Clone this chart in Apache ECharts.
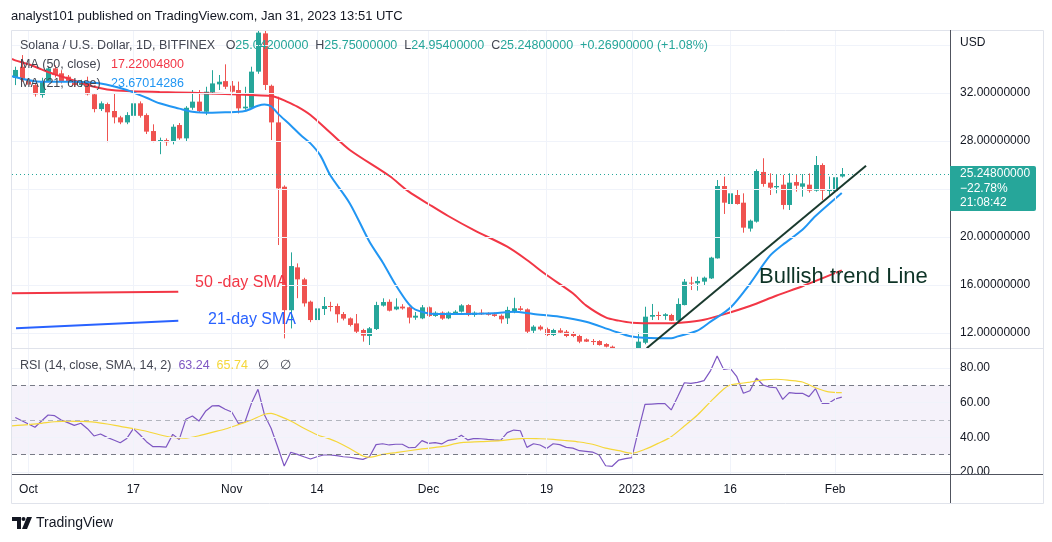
<!DOCTYPE html>
<html><head><meta charset="utf-8">
<script src="https://cdn.jsdelivr.net/npm/echarts@6/dist/echarts.min.js"></script>
<style>html,body{margin:0;padding:0;background:#fff}#c{width:1052px;height:542px}</style>
</head><body><div id="c"></div>
<script>
// ---------------- DATA ----------------
// day index d: 0 = 2022-10-01 ; first candle d = -2
const firstDay = -2;
const tickDays = [0, 16, 31, 44, 61, 79, 92, 107, 123];
const tickLabels = ['Oct', '17', 'Nov', '14', 'Dec', '19', '2023', '16', 'Feb'];
const priceGridTicks = [12, 16, 20, 24, 28, 32, 36];
const priceLabelTicks = [12, 16, 20, 28, 32];
const rsiTicks = [20, 40, 60, 80];
const rsiBands = [30, 50, 70];

// [open, close, low, high]
const ohlc = [
 [33.27,33.92,32.66,34.19],[34.19,33.08,32.94,35.16],[33.08,32.70,32.30,33.50],[32.66,31.89,31.70,32.80],[31.83,32.94,31.61,33.27],
 [32.94,34.05,32.90,34.20],[34.05,33.50,33.30,34.30],[33.64,32.94,32.80,33.90],[33.36,32.94,32.80,33.50],[32.94,32.66,32.50,33.10],
 [32.66,32.94,32.50,33.10],[32.94,31.89,31.80,33.36],[31.89,30.66,30.39,32.00],[30.66,31.14,30.50,31.30],[31.08,30.39,27.90,31.20],
 [30.50,29.97,29.47,31.97],[29.97,29.55,29.40,30.10],[29.55,30.16,29.40,30.40],[30.10,31.14,29.90,31.28],[31.14,30.10,29.95,31.30],
 [30.16,28.78,28.58,30.30],[28.83,27.94,27.90,29.39],[27.94,28.08,26.90,28.28],[28.08,27.90,27.60,28.22],[27.94,29.19,27.72,29.39],
 [29.33,28.22,28.10,29.50],[28.22,30.77,28.00,30.90],[30.77,31.28,30.60,32.25],[31.28,30.50,30.40,32.25],[30.44,32.11,30.16,32.52],
 [32.05,32.80,31.90,33.90],[32.72,32.94,32.25,33.50],[32.99,32.52,32.33,34.39],[32.61,32.11,32.05,33.00],[32.25,30.72,30.30,32.95],
 [30.72,30.86,30.60,32.52],[30.77,33.78,30.70,34.19],[33.78,37.03,33.60,38.50],[36.97,32.67,32.25,38.00],[32.60,29.55,28.08,32.70],
 [29.55,24.05,19.33,31.69],[24.19,13.90,11.55,24.30],[13.90,17.58,12.38,18.72],[17.47,16.47,14.90,17.80],[16.47,14.47,14.20,16.60],
 [14.61,13.08,12.90,14.70],[13.08,14.05,12.11,14.90],[14.00,14.25,13.50,15.00],[14.25,14.20,13.80,14.60],[14.25,13.56,12.86,14.45],
 [13.58,13.20,13.05,13.75],[13.22,12.67,12.55,13.30],[12.80,12.11,12.00,13.58],[12.25,11.78,11.28,12.35],[11.75,12.39,11.00,12.50],
 [12.33,14.33,12.25,14.60],[14.28,14.58,14.20,14.89],[14.60,13.86,13.80,14.80],[13.97,14.20,13.90,14.89],[14.20,14.05,13.95,14.40],
 [14.14,13.28,12.80,14.20],[13.28,13.44,13.10,13.75],[13.22,14.14,13.15,14.33],[14.14,13.42,13.35,14.20],[13.42,13.69,13.35,13.80],
 [13.70,13.20,13.10,13.80],[13.22,13.70,13.15,13.80],[13.64,13.78,13.55,13.90],[13.78,14.30,13.70,14.40],[14.33,13.50,13.40,14.40],
 [13.50,13.69,13.35,13.80],[13.69,13.56,13.50,13.97],[13.60,13.58,13.45,13.72],[13.56,13.42,13.35,13.70],[13.44,13.14,12.80,13.55],
 [13.22,13.92,12.75,14.19],[13.72,14.06,13.65,14.94],[14.05,13.92,13.85,14.25],[13.97,12.11,11.92,14.05],[12.19,12.53,11.92,12.65],
 [12.53,12.30,12.20,12.65],[12.33,11.83,11.75,12.45],[11.83,12.25,11.75,12.35],[12.22,12.03,11.95,12.40],[12.11,11.75,11.65,12.25],
 [11.92,11.75,11.65,12.10],[11.75,11.28,11.15,11.85],[11.47,11.28,11.25,11.55],[11.33,11.28,11.00,11.50],[11.33,11.00,10.95,11.40],
 [11.08,10.86,10.80,11.15],[10.86,9.90,9.60,10.95],[9.90,10.10,9.70,10.30],[10.10,10.20,9.95,10.40],[10.20,10.00,9.90,10.35],
 [10.00,11.28,9.90,12.03],[11.19,13.36,11.06,14.19],[13.36,13.50,13.08,14.42],[13.50,13.42,13.08,13.78],[13.42,13.56,13.10,13.65],
 [13.50,13.03,13.00,13.60],[13.03,14.42,12.95,14.89],[14.33,16.28,14.30,16.50],[16.20,16.14,15.58,16.69],[16.14,16.33,15.53,16.69],
 [16.28,16.61,15.95,16.70],[16.55,18.28,16.50,18.35],[18.22,24.25,18.20,24.75],[24.25,22.86,21.92,25.03],[22.75,23.64,22.19,25.03],
 [23.50,22.75,22.70,23.92],[22.86,20.78,20.36,23.64],[20.70,21.36,20.45,21.45],[21.28,25.50,21.20,25.64],[25.42,24.42,24.19,26.56],
 [24.53,24.11,23.50,25.31],[24.14,24.25,23.64,25.17],[24.36,22.67,22.30,25.17],[22.67,24.53,22.25,25.31],[24.58,24.28,23.78,25.25],
 [24.19,24.47,23.36,25.25],[24.36,23.86,23.70,25.30],[23.86,26.00,23.78,26.75],[26.00,23.86,23.08,26.14],[23.83,23.94,23.36,25.03],
 [23.83,24.979,22.53,25.03],[25.042,25.248,24.954,25.75]
];

const ma50Days = [-2.5,-2,0,2,4,6,8,10,12,15,20,25,30,34,37,38,39,41,43,46,49,55,58,61,64,68,73,76,79,83,85,88,90,92,96,98,101,103,106,110,114,118,121,124];
const ma50Values = [34.85,34.72,34.39,33.97,33.55,33.22,32.86,32.52,32.30,32.16,32.08,32.02,31.91,31.83,31.75,31.61,31.38,30.86,30.16,28.70,27.25,25.10,23.78,22.75,21.75,20.55,19.19,18.08,16.83,15.31,14.30,13.30,13.03,12.86,12.81,12.81,12.94,13.10,13.55,14.25,15.10,15.90,16.55,17.220048];

const ma21Days = [-2.5,2,7,11,15,18,20,23,25,28,30,33,35,36,37,38,40,41.5,43,44.5,46,49,52,54,56,58,59,62,66,71,74,77,81,85,89,92,96,98,99,102,104,107,110,113,115,118,120,124];
const ma21Values = [33.40,32.94,32.94,32.80,32.25,31.60,31.14,30.70,30.44,30.36,30.39,30.50,30.94,31.05,30.90,30.30,29.30,28.50,27.80,26.80,25.17,22.80,19.60,17.90,16.00,14.40,13.95,13.58,13.58,13.64,13.78,13.58,13.36,12.94,12.20,11.70,11.56,11.56,11.72,12.20,12.95,14.10,16.10,18.40,19.35,20.60,21.75,23.67014286];

const rsi = [
 51.4,49.6,47.7,45.8,49.4,52.9,52.5,50.0,48.5,46.9,
 48.1,45.0,40.8,41.9,40.0,38.5,36.9,39.4,45.0,41.5,
 37.5,34.6,34.6,34.4,41.7,38.8,50.4,52.3,49.4,55.0,
 58.1,58.3,56.2,54.6,48.1,48.7,59.6,67.7,52.9,45.2,
 34.6,23.5,31.4,30.2,28.8,27.5,28.8,29.8,29.8,29.4,
 28.8,28.5,27.9,27.3,28.8,35.8,36.3,35.6,36.0,36.0,
 34.0,34.2,38.1,36.5,36.9,36.2,38.3,38.8,41.2,38.5,
 39.4,39.2,38.8,38.5,38.3,42.7,44.2,43.8,34.2,36.3,
 35.6,33.6,36.3,35.8,34.2,33.8,32.3,31.9,31.5,29.8,
 23.6,23.3,26.9,27.7,28.3,44.0,59.0,59.2,59.4,59.6,
 55.8,63.5,71.5,71.1,71.7,72.7,78.5,86.9,79.2,79.8,
 75.0,65.4,66.9,74.2,70.2,69.0,68.6,61.9,65.8,65.4,
 65.4,63.5,68.1,59.6,59.6,62.1,63.24
];

const rsiMaDays = [-2.5,0,2,4,6,8,10,12,14,16,18,20,22,24,26,28,30,32,34,36,37,38,40,42,44,46,47,49,51,52,54,56,60,63,66,69,72,74,76,78,80,82,84,86,88,90,92,94,96,98,100,102,104,106,107,108,110,112,114,116,118,120,122,124];
const rsiMaValues = [46.6,47.3,48.1,49.0,49.4,49.2,48.8,47.7,46.3,45.0,43.5,41.5,40.0,39.6,40.9,42.9,44.8,47.3,50.0,53.3,53.8,52.7,49.4,45.2,41.5,39.0,37.5,33.6,29.2,28.5,30.2,31.2,33.3,34.6,36.9,37.5,38.1,39.0,39.4,39.2,38.8,38.1,37.3,36.0,33.8,32.3,30.8,33.1,36.5,40.4,46.5,52.9,60.6,67.9,70.2,70.8,71.9,73.1,73.5,72.9,71.9,68.6,66.2,65.74];

// drawings (in chart data coordinates: [day, price])
const trendLine = [[94.26, 10.73], [127.7, 25.94]];
const legendRedLine = [[-2.55, 15.31], [22.85, 15.44]];
const legendBlueLine = [[-1.89, 12.39], [22.85, 13.02]];
const lastPriceChangeText = '\u221222.78%';
const countdownText = '21:08:42';

// ---------------- CHART ----------------
const FONT = '"Liberation Sans", Arial, sans-serif';
const UP = '#26a69a', DOWN = '#ef5350';
const N = 143;
const categories = [];
for (let i = 0; i < N; i++) {
  const dt = new Date(Date.UTC(2022, 8, 29 + i));
  categories.push(dt.toISOString().slice(0, 10));
}
const pair = (xs, ys) => xs.map((x, i) => [x, ys[i]]);
const last = ohlc[ohlc.length - 1];
const prevClose = ohlc[ohlc.length - 2][1];
const chg = last[1] - prevClose;
const chgPct = chg / prevClose * 100;
const GRID = '#f0f3fa';

const chart = echarts.init(document.getElementById('c'), null, {renderer: 'canvas'});

const LF = '12.5px ' + FONT;
const legendText =
  '{l|Solana / U.S. Dollar, 1D, BITFINEX}   {l|O}{v|' + last[0].toFixed(8) + '}  {l|H}{v|' + last[3].toFixed(8) +
  '}  {l|L}{v|' + last[2].toFixed(8) + '}  {l|C}{v|' + last[1].toFixed(8) + '}  {v|' + (chg >= 0 ? '+' : '') + chg.toFixed(8) +
  ' (' + (chg >= 0 ? '+' : '') + chgPct.toFixed(2) + '%)}';

const graphics = [
  {type: 'text', x: 11, y: 16, z: 100, silent: true,
   style: {text: 'analyst101 published on TradingView.com, Jan 31, 2023 13:51 UTC', fill: '#131722', font: '13px ' + FONT, verticalAlign: 'middle'}},
  {type: 'rect', z: 90, silent: true, shape: {x: 11.5, y: 30.5, width: 1032, height: 473},
   style: {fill: 'none', stroke: '#e0e3eb', lineWidth: 1}},
  {type: 'line', z: 90, silent: true, shape: {x1: 12, y1: 348.5, x2: 1043, y2: 348.5}, style: {stroke: '#e0e3eb', lineWidth: 1}},
  {type: 'line', z: 91, silent: true, shape: {x1: 12, y1: 474.5, x2: 1043, y2: 474.5}, style: {stroke: '#50535e', lineWidth: 1}},
  {type: 'line', z: 91, silent: true, shape: {x1: 950.5, y1: 30, x2: 950.5, y2: 503}, style: {stroke: '#50535e', lineWidth: 1}},
  {type: 'text', x: 20, y: 46, z: 100, silent: true,
   style: {text: legendText, font: LF, verticalAlign: 'middle',
     rich: {l: {fill: '#434651', font: LF}, v: {fill: UP, font: LF}}}},
  {type: 'text', x: 20, y: 65, z: 100, silent: true,
   style: {text: '{l|MA (50, close)}   {v|' + ma50Values[ma50Values.length - 1].toFixed(8) + '}', font: LF, verticalAlign: 'middle',
     rich: {l: {fill: '#434651', font: LF}, v: {fill: '#f23645', font: LF}}}},
  {type: 'text', x: 20, y: 84, z: 100, silent: true,
   style: {text: '{l|MA (21, close)}   {v|' + ma21Values[ma21Values.length - 1].toFixed(8) + '}', font: LF, verticalAlign: 'middle',
     rich: {l: {fill: '#434651', font: LF}, v: {fill: '#2196f3', font: LF}}}},
  {type: 'text', x: 20, y: 366, z: 100, silent: true,
   style: {text: '{l|RSI (14, close, SMA, 14, 2)}  {p|' + rsi[rsi.length - 1].toFixed(2) + '}  {y|' + rsiMaValues[rsiMaValues.length - 1].toFixed(2) + '}   {g|\u2205}   {g|\u2205}',
     font: LF, verticalAlign: 'middle',
     rich: {l: {fill: '#434651', font: LF}, p: {fill: '#7e57c2', font: LF},
            y: {fill: '#f5d73a', font: LF}, g: {fill: '#434651', font: LF}}}},
  {type: 'text', x: 195, y: 283, z: 100, silent: true,
   style: {text: '50 -day SMA', fill: '#f23645', font: '16px ' + FONT, verticalAlign: 'middle'}},
  {type: 'text', x: 208, y: 320, z: 100, silent: true,
   style: {text: '21-day SMA', fill: '#2962ff', font: '16px ' + FONT, verticalAlign: 'middle'}},
  {type: 'text', x: 759, y: 277, z: 100, silent: true,
   style: {text: 'Bullish trend Line', fill: '#0d3326', font: '22px ' + FONT, verticalAlign: 'middle'}},
  {type: 'text', x: 960, y: 43, z: 100, silent: true,
   style: {text: 'USD', fill: '#131722', font: '12px ' + FONT, verticalAlign: 'middle'}},
  {type: 'rect', z: 100, silent: true, shape: {x: 950, y: 166, width: 86, height: 45, r: [0, 2, 2, 0]}, style: {fill: UP}},
  {type: 'text', x: 960, y: 174, z: 101, silent: true,
   style: {text: last[1].toFixed(8), fill: '#ffffff', font: '12px ' + FONT, verticalAlign: 'middle'}},
  {type: 'text', x: 960, y: 188.5, z: 101, silent: true,
   style: {text: lastPriceChangeText, fill: '#ffffff', font: '12px ' + FONT, verticalAlign: 'middle'}},
  {type: 'text', x: 960, y: 202.5, z: 101, silent: true,
   style: {text: countdownText, fill: '#ffffff', font: '12px ' + FONT, verticalAlign: 'middle'}},
  // TradingView logo
  {type: 'polygon', z: 100, silent: true, shape: {points: [[12, 517], [21, 517], [21, 529], [17, 529], [17, 521], [12, 521]]}, style: {fill: '#131722'}},
  {type: 'circle', z: 100, silent: true, shape: {cx: 23.5, cy: 519, r: 2}, style: {fill: '#131722'}},
  {type: 'polygon', z: 100, silent: true, shape: {points: [[27, 517], [32, 517], [27, 529], [22, 529]]}, style: {fill: '#131722'}},
  {type: 'text', x: 36, y: 523, z: 100, silent: true,
   style: {text: 'TradingView', fill: '#131722', font: '14px ' + FONT, verticalAlign: 'middle'}}
];

function renderCandle(params, api) {
  const xi = api.value(0);
  const o = api.value(1), c = api.value(2), l = api.value(3), h = api.value(4);
  const pO = api.coord([xi, o]), pC = api.coord([xi, c]);
  const pL = api.coord([xi, l]), pH = api.coord([xi, h]);
  const band = api.size([1, 0])[0];
  const w = Math.max(1, Math.round(band * 0.72));
  const cx = Math.round(pO[0]);
  const color = c >= o ? UP : DOWN;
  const top = Math.min(pO[1], pC[1]), bot = Math.max(pO[1], pC[1]);
  return {
    type: 'group',
    children: [
      {type: 'line', shape: {x1: cx + 0.5, y1: pH[1], x2: cx + 0.5, y2: pL[1]}, style: {stroke: color, lineWidth: 1}},
      {type: 'rect', shape: {x: cx + 0.5 - w / 2, y: top, width: w, height: Math.max(bot - top, 1)}, style: {fill: color}}
    ]
  };
}

const option = {
  animation: false,
  backgroundColor: '#ffffff',
  textStyle: {fontFamily: FONT},
  grid: [
    {left: 12, top: 30, width: 938, height: 318},
    {left: 12, top: 348, width: 938, height: 126}
  ],
  xAxis: [
    {type: 'category', gridIndex: 0, data: categories, boundaryGap: true, show: false},
    {type: 'value', gridIndex: 0, min: -2.5, max: 140.5, show: false},
    {type: 'value', gridIndex: 1, min: -2.5, max: 140.5,
     axisLine: {show: false}, axisTick: {show: false}, splitLine: {show: false},
     axisLabel: {customValues: tickDays, color: '#131722', fontSize: 12, margin: 10, fontFamily: FONT,
       formatter: v => { const i = tickDays.indexOf(Math.round(v)); return i >= 0 ? tickLabels[i] : ''; }}}
  ],
  yAxis: [
    {type: 'value', gridIndex: 0, position: 'right', min: 10.75, max: 37.25,
     axisLine: {show: false}, axisTick: {show: false}, splitLine: {show: false},
     axisLabel: {customValues: priceLabelTicks, color: '#131722', fontSize: 12, margin: 10, fontFamily: FONT,
       formatter: v => v.toFixed(8)}},
    {type: 'value', gridIndex: 1, position: 'right', min: 18.85, max: 91.54,
     axisLine: {show: false}, axisTick: {show: false}, splitLine: {show: false},
     axisLabel: {customValues: rsiTicks, color: '#131722', fontSize: 12, margin: 10, fontFamily: FONT,
       formatter: v => v.toFixed(2)}}
  ],
  series: [
    {type: 'line', name: 'grid-main', xAxisIndex: 1, yAxisIndex: 0, data: [], z: 0, silent: true,
     markLine: {silent: true, symbol: 'none', label: {show: false}, animation: false,
       lineStyle: {color: GRID, width: 1, type: 'solid'},
       data: priceGridTicks.map(v => ({yAxis: v})).concat(tickDays.map(d => ({xAxis: d})))}},
    {type: 'line', name: 'grid-rsi', xAxisIndex: 2, yAxisIndex: 1, data: [], z: 0, silent: true,
     markArea: {silent: true, itemStyle: {color: 'rgba(126,87,194,0.08)'}, data: [[{yAxis: 30}, {yAxis: 70}]]},
     markLine: {silent: true, symbol: 'none', label: {show: false}, animation: false,
       lineStyle: {color: GRID, width: 1, type: 'solid'},
       data: rsiTicks.map(v => ({yAxis: v})).concat(tickDays.map(d => ({xAxis: d})))}},
    {type: 'line', name: 'rsi-levels', xAxisIndex: 2, yAxisIndex: 1, data: [], z: 1, silent: true,
     markLine: {silent: true, symbol: 'none', label: {show: false}, animation: false,
       data: [
         {yAxis: rsiBands[2], lineStyle: {color: '#787b86', width: 1, type: [5, 4]}},
         {yAxis: rsiBands[1], lineStyle: {color: '#b2b5be', width: 1, type: [5, 4]}},
         {yAxis: rsiBands[0], lineStyle: {color: '#787b86', width: 1, type: [5, 4]}}
       ]}},
    {type: 'line', name: 'last-price', xAxisIndex: 1, yAxisIndex: 0, data: [], z: 1, silent: true,
     markLine: {silent: true, symbol: 'none', label: {show: false}, animation: false,
       lineStyle: {color: UP, width: 1, type: [1, 3]},
       data: [{yAxis: last[1]}]}},
    {type: 'custom', name: 'SOLUSD', xAxisIndex: 0, yAxisIndex: 0, z: 3, clip: true, silent: true,
     renderItem: renderCandle,
     dimensions: ['idx', 'open', 'close', 'low', 'high'],
     encode: {x: 0, y: [1, 2, 3, 4]},
     data: ohlc.map((r, i) => [i, r[0], r[1], r[2], r[3]])},
    {type: 'line', name: 'MA50', xAxisIndex: 1, yAxisIndex: 0, z: 4, data: pair(ma50Days, ma50Values),
     showSymbol: false, smooth: 0.3, lineStyle: {color: '#f23645', width: 2}, clip: true},
    {type: 'line', name: 'MA21', xAxisIndex: 1, yAxisIndex: 0, z: 4, data: pair(ma21Days, ma21Values),
     showSymbol: false, smooth: 0.3, lineStyle: {color: '#2196f3', width: 2}, clip: true},
    {type: 'line', name: 'trend', xAxisIndex: 1, yAxisIndex: 0, z: 5, data: trendLine,
     showSymbol: false, lineStyle: {color: '#1a3a2e', width: 2}, clip: false},
    {type: 'line', name: 'legendRed', xAxisIndex: 1, yAxisIndex: 0, z: 5, data: legendRedLine,
     showSymbol: false, lineStyle: {color: '#f23645', width: 2}, clip: false},
    {type: 'line', name: 'legendBlue', xAxisIndex: 1, yAxisIndex: 0, z: 5, data: legendBlueLine,
     showSymbol: false, lineStyle: {color: '#2962ff', width: 2}, clip: false},
    {type: 'line', name: 'RSI', xAxisIndex: 2, yAxisIndex: 1, z: 4, data: rsi.map((v, i) => [i + firstDay, v]),
     showSymbol: false, lineStyle: {color: '#7e57c2', width: 1.2}},
    {type: 'line', name: 'RSI MA', xAxisIndex: 2, yAxisIndex: 1, z: 4, data: pair(rsiMaDays, rsiMaValues),
     showSymbol: false, smooth: 0.3, lineStyle: {color: '#f5d73a', width: 1.2}}
  ],
  graphic: graphics
};
chart.setOption(option);
</script>
</body></html>
